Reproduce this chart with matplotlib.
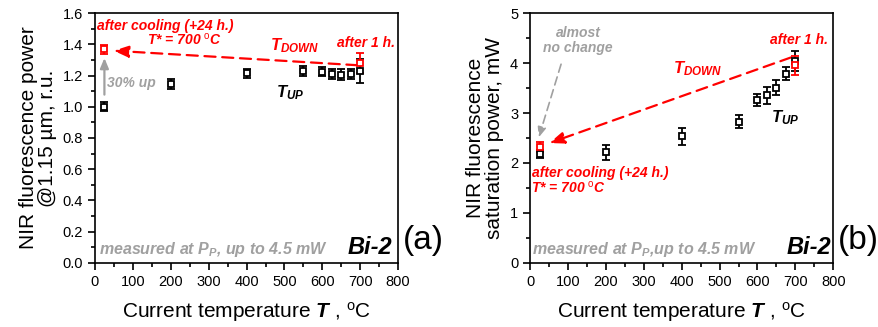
import matplotlib
matplotlib.use("Agg")
import matplotlib.pyplot as plt

plt.rcParams["font.family"] = ["Liberation Sans", "DejaVu Sans"]
plt.rcParams["mathtext.fontset"] = "custom"
plt.rcParams["mathtext.it"] = "Liberation Sans:bold:italic"
plt.rcParams["mathtext.rm"] = "Liberation Sans"

# heating run (T_UP)
temp_up = [25, 200, 400, 550, 600, 625, 650, 675, 700]
pow_a = [1.00, 1.146, 1.214, 1.229, 1.224, 1.21, 1.205, 1.21, 1.23]
err_a = [0.03, 0.03, 0.03, 0.03, 0.03, 0.03, 0.035, 0.035, 0.075]
sat_b = [2.17, 2.21, 2.53, 2.83, 3.26, 3.36, 3.51, 3.79, 4.05]
err_b = [0.08, 0.15, 0.18, 0.13, 0.12, 0.17, 0.15, 0.13, 0.2]

# after 1 h at 700 C and after cooling (T_DOWN)
temp_down = [700, 25]
pow_a_down = [1.278, 1.368]
err_a_down = [0.064, 0.03]
sat_b_down = [3.96, 2.31]
err_b_down = [0.19, 0.1]

red = "#ff0000"
gray = "#a0a0a0"

fig = plt.figure(figsize=(8.79, 3.27), dpi=100)
ax1 = fig.add_axes([0.108, 0.196, 0.345, 0.764])
ax2 = fig.add_axes([0.603, 0.196, 0.345, 0.764])


def style(ax):
    ax.set_xlim(0, 800)
    ax.set_xticks(range(0, 801, 100))
    ax.set_xticks(range(0, 801, 50), minor=True)
    ax.tick_params(which="both", direction="out", top=False, right=False, labelsize=10.5)
    ax.tick_params(which="major", length=5, width=1.2)
    ax.tick_params(which="minor", length=3, width=1.2)
    for s in ax.spines.values():
        s.set_linewidth(1.2)
    ax.set_xlabel("Current temperature $T$ , $^{\\rm o}$C", fontsize=15, labelpad=8)


def points(ax, x, y, e, c):
    ax.errorbar(x, y, yerr=e, fmt="s", mfc="white", mec=c, ms=5, mew=1.3,
                ecolor=c, elinewidth=1.3, capsize=3, capthick=1.3, zorder=3)


# (a) relative fluorescence power
style(ax1)
ax1.set_ylim(0, 1.6)
ax1.set_yticks([0, 0.2, 0.4, 0.6, 0.8, 1.0, 1.2, 1.4, 1.6])
ax1.set_yticks([i / 10 for i in range(17)], minor=True)
ax1.set_yticklabels(["0.0", "0.2", "0.4", "0.6", "0.8", "1.0", "1.2", "1.4", "1.6"])
ax1.set_ylabel("NIR fluorescence power\n@1.15 µm, r.u.", fontsize=15, linespacing=1.0)
points(ax1, temp_up, pow_a, err_a, "black")
points(ax1, temp_down, pow_a_down, err_a_down, red)
ax1.annotate("", xy=(42, 1.36), xytext=(700, 1.265),
             arrowprops=dict(arrowstyle="-|>,head_length=0.9,head_width=0.35",
                             color=red, lw=1.6, linestyle=(0, (5, 3))))
ax1.annotate("", xy=(25, 1.33), xytext=(25, 1.06),
             arrowprops=dict(arrowstyle="-|>,head_length=0.6,head_width=0.25",
                             color=gray, lw=1.6))
ax1.text(33, 1.15, "30% up", color=gray, fontsize=10, fontweight="bold",
         style="italic", va="center")
ax1.text(6, 1.52, "after cooling (+24 h.)", color=red, fontsize=10,
         fontweight="bold", style="italic", va="center")
ax1.text(235, 1.43, "T* = 700 $^{\\rm o}$C", color=red, fontsize=10,
         fontweight="bold", style="italic", va="center", ha="center")
ax1.text(527, 1.39, "$T_{DOWN}$", color=red, fontsize=12, ha="center", va="center")
ax1.text(792, 1.41, "after 1 h.", color=red, fontsize=10, fontweight="bold",
         style="italic", ha="right", va="center")
ax1.text(515, 1.09, "$T_{UP}$", color="black", fontsize=12, ha="center", va="center")
ax1.text(10, 0.085, "measured at $P_P$, up to 4.5 mW", color=gray, fontsize=11.5,
         fontweight="bold", style="italic", va="center")
ax1.text(785, 0.1, "Bi-2", color="black", fontsize=17, fontweight="bold",
         style="italic", ha="right", va="center")
ax1.text(1.015, 0.09, "(a)", transform=ax1.transAxes, fontsize=24, va="center")

# (b) saturation power
style(ax2)
ax2.set_ylim(0, 5)
ax2.set_yticks(range(0, 6))
ax2.set_yticks([i / 2 for i in range(11)], minor=True)
ax2.set_ylabel("NIR fluorescence\nsaturation power, mW", fontsize=15, linespacing=1.0)
points(ax2, temp_up, sat_b, err_b, "black")
points(ax2, temp_down, sat_b_down, err_b_down, red)
ax2.annotate("", xy=(44, 2.38), xytext=(695, 4.13),
             arrowprops=dict(arrowstyle="-|>,head_length=0.9,head_width=0.35",
                             color=red, lw=1.6, linestyle=(0, (5, 3))))
ax2.annotate("", xy=(21, 2.46), xytext=(84, 4.03),
             arrowprops=dict(arrowstyle="-|>,head_length=0.6,head_width=0.25",
                             color=gray, lw=1.2, linestyle=(0, (5, 3))))
ax2.text(127, 4.45, "almost\nno change", color=gray, fontsize=10, fontweight="bold",
         style="italic", ha="center", va="center", linespacing=1.1)
ax2.text(441, 3.89, "$T_{DOWN}$", color=red, fontsize=12, ha="center", va="center")
ax2.text(785, 4.46, "after 1 h.", color=red, fontsize=10, fontweight="bold",
         style="italic", ha="right", va="center")
ax2.text(672, 2.9, "$T_{UP}$", color="black", fontsize=12, ha="center", va="center")
ax2.text(6, 1.8, "after cooling (+24 h.)", color=red, fontsize=10,
         fontweight="bold", style="italic", va="center")
ax2.text(100, 1.5, "T* = 700 $^{\\rm o}$C", color=red, fontsize=10,
         fontweight="bold", style="italic", ha="center", va="center")
ax2.text(6, 0.26, "measured at $P_P$,up to 4.5 mW", color=gray, fontsize=11.5,
         fontweight="bold", style="italic", va="center")
ax2.text(795, 0.3, "Bi-2", color="black", fontsize=17, fontweight="bold",
         style="italic", ha="right", va="center")
ax2.text(1.015, 0.09, "(b)", transform=ax2.transAxes, fontsize=24, va="center")

fig.savefig("out.png", dpi=100)
